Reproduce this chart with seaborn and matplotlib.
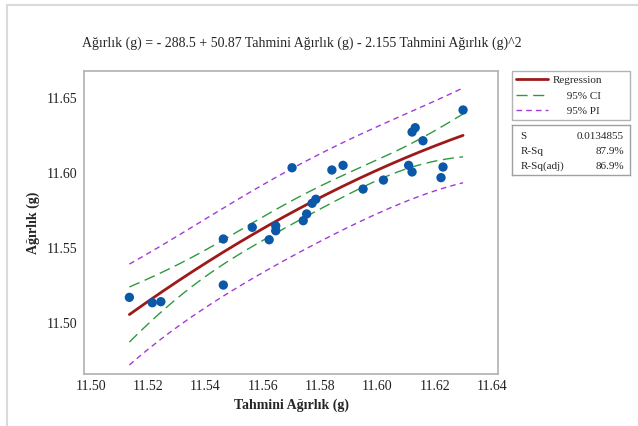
import numpy as np
import matplotlib
matplotlib.use("Agg")
import matplotlib.pyplot as plt
from matplotlib.lines import Line2D
import seaborn as sns

# data (Tahmini Ağırlık vs Ağırlık, grams)
tahmini = [11.5134, 11.5214, 11.5244, 11.5462, 11.5462, 11.5563, 11.5622,
           11.5645, 11.5645, 11.5702, 11.5741, 11.5753, 11.5772, 11.5785,
           11.5841, 11.5880, 11.5950, 11.6021, 11.6109, 11.6121, 11.6121,
           11.6132, 11.6159, 11.6229, 11.6222, 11.6299]
agirlik = [11.5169, 11.5133, 11.5140, 11.5558, 11.5251, 11.5636, 11.5553,
           11.5645, 11.5613, 11.6033, 11.5680, 11.5725, 11.5796, 11.5823,
           11.6018, 11.6049, 11.5891, 11.5951, 11.6049, 11.6005, 11.6271,
           11.6300, 11.6213, 11.6038, 11.5967, 11.6418]

title = "Ağırlık (g) = - 288.5 + 50.87 Tahmini Ağırlık (g) - 2.155 Tahmini Ağırlık (g)^2"
legend_labels = ["Regression", "     95% CI", "     95% PI"]
stat_names = ["S", "R-Sq", "R-Sq(adj)"]
stat_values = ["0.0134855", "87.9%", "86.9%"]
xticks = [11.50, 11.52, 11.54, 11.56, 11.58, 11.60, 11.62, 11.64]
yticks = [11.50, 11.55, 11.60, 11.65]

sns.set_style("white")
plt.rcParams["font.family"] = ["Liberation Serif", "DejaVu Serif"]

# quadratic fit with confidence / prediction bands
x = np.array(tahmini)
y = np.array(agirlik)
n = len(x)
xm = x.mean()
X = np.column_stack([np.ones(n), x - xm, (x - xm) ** 2])
beta = np.linalg.lstsq(X, y, rcond=None)[0]
resid = y - X @ beta
s = np.sqrt(np.sum(resid ** 2) / (n - 3))
XtX_inv = np.linalg.inv(X.T @ X)
t_val = 2.0687  # t(0.975, 23)

grid = np.linspace(x.min(), x.max(), 200)
G = np.column_stack([np.ones(len(grid)), grid - xm, (grid - xm) ** 2])
fit = G @ beta
se_fit = s * np.sqrt(np.sum((G @ XtX_inv) * G, axis=1))
ci = t_val * se_fit
pi = t_val * np.sqrt(s ** 2 + se_fit ** 2)

fig = plt.figure(figsize=(6.38, 4.26), dpi=100)
ax = fig.add_axes([84 / 638, 1 - 374 / 426, 414 / 638, 303 / 426])

red, green, purple, blue = "#9e1a1a", "#2e9a3e", "#a43ad6", "#0b57a8"

sns.lineplot(x=grid, y=fit, color=red, lw=2, ax=ax)
sns.lineplot(x=grid, y=fit + ci, color=green, lw=1, linestyle=(0, (8, 4)), ax=ax)
sns.lineplot(x=grid, y=fit - ci, color=green, lw=1, linestyle=(0, (8, 4)), ax=ax)
sns.lineplot(x=grid, y=fit + pi, color=purple, lw=1, linestyle=(0, (4, 3)), ax=ax)
sns.lineplot(x=grid, y=fit - pi, color=purple, lw=1, linestyle=(0, (4, 3)), ax=ax)
sns.scatterplot(x=x, y=y, color=blue, s=45, edgecolor="none", ax=ax, zorder=5)

ax.set_xlim(11.49756, 11.6421)
ax.set_ylim(11.4658, 11.6678)
ax.set_xticks(xticks)
ax.set_yticks(yticks)
ax.set_xticklabels([f"{v:.2f}" for v in xticks])
ax.set_yticklabels([f"{v:.2f}" for v in yticks])
ax.tick_params(axis="both", direction="out", length=3, width=0.8, color="#a0a0a0",
               labelsize=10, pad=1.5, labelcolor="#222222")
for sp in ax.spines.values():
    sp.set_color("#b0b0b0")
    sp.set_linewidth(1.2)
ax.set_xlabel("Tahmini Ağırlık (g)", fontsize=10, fontweight="bold", labelpad=4)
ax.set_ylabel("Ağırlık (g)", fontsize=10, fontweight="bold", labelpad=5)

fig.text(302 / 638, 1 - 43 / 426, title, ha="center", va="center", fontsize=10)

handles = [Line2D([], [], color=red, lw=2),
           Line2D([], [], color=green, lw=1, linestyle=(0, (8, 4))),
           Line2D([], [], color=purple, lw=1, linestyle=(0, (4, 3)))]
leg = ax.legend(handles, legend_labels, loc="upper left", mode="expand",
                bbox_to_anchor=(512 / 638, 1 - 118 / 426, 118 / 638, 47 / 426),
                bbox_transform=fig.transFigure,
                fontsize=8, frameon=True, fancybox=False, handlelength=2.8,
                borderpad=0.4, labelspacing=0.5, handletextpad=0.5, borderaxespad=0)
leg.get_frame().set_edgecolor("#a0a0a0")
leg.get_frame().set_linewidth(1.0)

# statistics box
sax = fig.add_axes([512 / 638, 1 - 175 / 426, 118 / 638, 50 / 426])
sax.set_xticks([])
sax.set_yticks([])
for sp in sax.spines.values():
    sp.set_color("#a0a0a0")
    sp.set_linewidth(1.0)
for i, (name, val) in enumerate(zip(stat_names, stat_values)):
    yy = 0.77 - i * 0.3
    sax.text(0.07, yy, name, fontsize=8, ha="left", va="center", transform=sax.transAxes)
    sax.text(0.95, yy, val, fontsize=8, ha="right", va="center", transform=sax.transAxes)

# light page frame on top and left
fig.add_artist(Line2D([7 / 638, 1], [1 - 5 / 426, 1 - 5 / 426], color="#dadada", lw=1.5,
                      transform=fig.transFigure))
fig.add_artist(Line2D([7 / 638, 7 / 638], [0, 1 - 5 / 426], color="#dadada", lw=1.5,
                      transform=fig.transFigure))

fig.savefig("out.png", dpi=100)
